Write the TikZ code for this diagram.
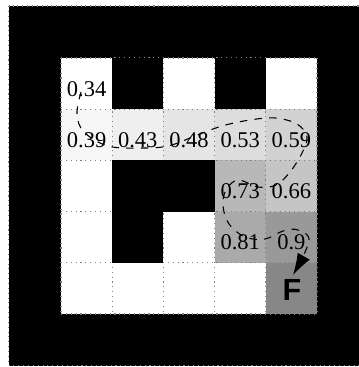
\documentclass[tikz,border=0pt]{standalone}
\usepackage{fontspec}
\setmainfont{Liberation Serif}
\newfontfamily\labelsans{Liberation Sans}
\usetikzlibrary{arrows.meta}
\definecolor{c39}{gray}{0.964}
\definecolor{c43}{gray}{0.936}
\definecolor{c48}{gray}{0.900}
\definecolor{c53}{gray}{0.865}
\definecolor{c59}{gray}{0.822}
\definecolor{c66}{gray}{0.772}
\definecolor{c73}{gray}{0.722}
\definecolor{c81}{gray}{0.665}
\definecolor{c90}{gray}{0.601}
\definecolor{cF}{gray}{0.530}
\newcommand\fillcell[3]{\fill[#3] ({61+51.2*(#2-1)},{58+51.2*(#1-1)}) rectangle ++(51.2,51.2);}
\begin{document}
\begin{tikzpicture}[x=0.01953125cm,y=-0.01953125cm,
  gridline/.style={draw=gray, line width=0.6pt, dash pattern=on 0.6pt off 2.1pt},
  val/.style={font=\fontsize{12.5}{14}\selectfont, anchor=base, inner sep=0pt},
  goal/.style={font=\labelsans\bfseries\fontsize{17}{18}\selectfont, inner sep=0pt},
  routeline/.style={line width=0.6pt, dash pattern=on 4.2pt off 4pt, -{Latex[length=12pt,width=7.8pt]}}]
\useasboundingbox (0,0) rectangle (358,367);
% outer wall
\fill[black] (8.5,6) rectangle (368.2,365.5);
% interior
\fill[white] (61,58) rectangle (317,314);
\fillcell{2}{1}{c39}
\fillcell{2}{2}{c43}
\fillcell{2}{3}{c48}
\fillcell{2}{4}{c53}
\fillcell{2}{5}{c59}
\fillcell{3}{4}{c73}
\fillcell{3}{5}{c66}
\fillcell{4}{4}{c81}
\fillcell{4}{5}{c90}
\fillcell{5}{5}{cF}
% grid
\foreach \k in {0,...,5} {
  \draw[gridline] ({61+51.2*\k},58) -- ({61+51.2*\k},314);
  \draw[gridline] (61,{58+51.2*\k}) -- (317,{58+51.2*\k});
}
% interior walls
\fillcell{1}{2}{black}
\fillcell{1}{4}{black}
\fillcell{3}{2}{black}
\fillcell{3}{3}{black}
\fillcell{4}{2}{black}
\draw[gridline] (8.5,6) rectangle (368.2,365.5);
% values
\node[val] (v34) at (86.6,96.1) {0.34};
\node[val] (v39) at (86.6,147.3) {0.39};
\node[val] (v43) at (137.8,147.3) {0.43};
\node[val] (v48) at (189,147.3) {0.48};
\node[val] (v53) at (240.2,147.3) {0.53};
\node[val] (v59) at (291.4,147.3) {0.59};
\node[val] (v73) at (240.2,198.5) {0.73};
\node[val] (v66) at (291.4,198.5) {0.66};
\node[val] (v81) at (240.2,249.7) {0.81};
\node[val] (v90) at (291.4,249.7) {0.9};
\node[goal] (goalF) at (292,290) {F};
% route waypoints
\coordinate (w1) at (81,92);
\coordinate (w2) at (77,114);
\coordinate (w3) at (84,132);
\coordinate (w4) at (108,146);
\coordinate (w5) at (140,148);
\coordinate (w6) at (168,146);
\coordinate (w7) at (195,136);
\coordinate (w8) at (222,126);
\coordinate (w9) at (250,120);
\coordinate (w10) at (275,118);
\coordinate (w11) at (297,124);
\coordinate (w12) at (307,137);
\coordinate (w13) at (302,153);
\coordinate (w14) at (290,172);
\coordinate (w15) at (276,185);
\coordinate (w16) at (258,187);
\coordinate (w17) at (238,180);
\coordinate (w18) at (226,190);
\coordinate (w19) at (223,206);
\coordinate (w20) at (229,224);
\coordinate (w21) at (245,237);
\coordinate (w22) at (265,239);
\coordinate (w23) at (283,231);
\coordinate (w24) at (298,230);
\coordinate (w25) at (309,241);
\coordinate (tip) at (293,275);
\draw[routeline] plot[smooth, tension=0.6] coordinates {(w1) (w2) (w3) (w4) (w5) (w6) (w7) (w8) (w9) (w10) (w11) (w12) (w13) (w14) (w15) (w16) (w17) (w18) (w19) (w20) (w21) (w22) (w23) (w24) (w25) (tip)};
\end{tikzpicture}
\end{document}
